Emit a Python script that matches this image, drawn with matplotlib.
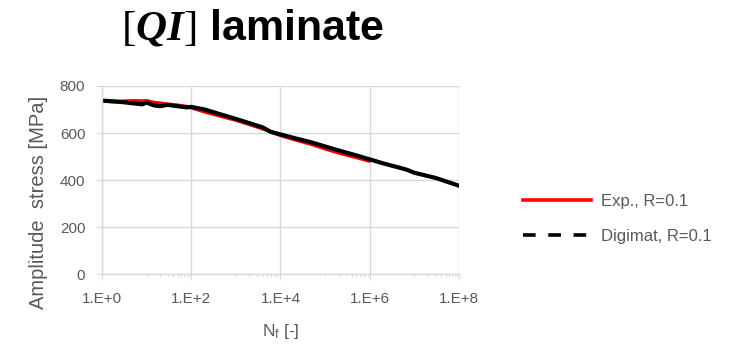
import numpy as np
import matplotlib
matplotlib.use('Agg')
import matplotlib.pyplot as plt
from matplotlib.lines import Line2D
from matplotlib.ticker import FixedLocator, FixedFormatter

plt.rcParams['font.family'] = 'Liberation Sans'
plt.rcParams['mathtext.fontset'] = 'custom'
plt.rcParams['mathtext.rm'] = 'Liberation Serif'
plt.rcParams['mathtext.it'] = 'Liberation Serif:italic:bold'
plt.rcParams['mathtext.bf'] = 'Liberation Serif:bold'

# S-N data (cycles, stress amplitude in MPa)
exp_n = [1, 2, 3, 5, 8, 10, 15, 20, 30, 50, 80, 100, 200, 500, 1e3, 2e3,
         5e3, 1e4, 2e4, 5e4, 1e5, 2e5, 5e5, 1e6]
exp_s = [736, 733, 735, 737, 736, 737, 729, 727, 722, 718, 712, 708, 690, 670,
         655, 637, 612, 590, 573, 552, 533, 516, 496, 481]

dig_n = [1, 2, 3, 5, 8, 10, 15, 20, 30, 40, 60, 80, 100, 200, 500, 1e3, 2e3,
         4e3, 6e3, 1e4, 2e4, 5e4, 1e5, 2e5, 5e5, 1e6, 2e6, 5e6, 7e6, 1e7,
         1.5e7, 3e7, 6e7, 1e8]
dig_s = [738, 734, 731, 726, 722, 729, 717, 714, 720, 716, 712, 709, 711, 700,
         677, 660, 642, 624, 605, 594, 579, 560, 543, 526, 505, 488, 471, 451,
         443, 431, 423, 409, 390, 376]

xticks = [1, 1e2, 1e4, 1e6, 1e8]
xtick_labels = ['1.E+0', '1.E+2', '1.E+4', '1.E+6', '1.E+8']
yticks = [0, 200, 400, 600, 800]

grey = '#595959'
grid = '#d9d9d9'

fig = plt.figure(figsize=(7.44, 3.48), dpi=100)
ax = fig.add_axes([0.137, 0.212, 0.480, 0.541])

ax.plot(exp_n, exp_s, color='#ff0000', lw=2.6, solid_capstyle='round')
ax.plot(dig_n, dig_s, color='black', lw=3.0, solid_capstyle='round')

ax.set_xscale('log')
ax.set_xlim(1, 1e8)
ax.set_ylim(0, 800)
ax.xaxis.set_major_locator(FixedLocator(xticks))
ax.xaxis.set_major_formatter(FixedFormatter(xtick_labels))
minors = [m * 10 ** (2 * k) for k in range(4) for m in range(10, 100, 10)]
ax.xaxis.set_minor_locator(FixedLocator(minors))
ax.xaxis.set_minor_formatter(FixedFormatter([''] * len(minors)))
ax.set_yticks(yticks)

ax.grid(True, which='major', color=grid, lw=1.0)
ax.set_axisbelow(True)
for s in ['top', 'right']:
    ax.spines[s].set_visible(False)
for s in ['left', 'bottom']:
    ax.spines[s].set_color(grid)
    ax.spines[s].set_linewidth(1.0)
ax.tick_params(axis='both', which='major', length=4, color=grid, labelcolor=grey,
               labelsize=11)
ax.tick_params(axis='x', which='minor', length=2.5, color=grid)
ax.tick_params(axis='x', pad=9)
ax.tick_params(axis='y', pad=8)

fig.text(0.052, 0.417, 'Amplitude  stress [MPa]', rotation=90, color=grey,
         fontsize=14.5, ha='center', va='center')
fig.text(0.378, 0.048, r'N$_\mathregular{f}$ [-]', color=grey, fontsize=12.5,
         ha='center', va='center')

fig.text(0.340, 0.920, r'$[QI]$ laminate', fontsize=31, fontweight='bold',
         ha='center', va='center')

handles = [Line2D([], [], color='#ff0000', lw=2.6),
           Line2D([], [], color='black', lw=2.6, ls=(0, (3.5, 3.5)))]
leg = fig.legend(handles, ['Exp., R=0.1', 'Digimat, R=0.1'],
                 loc='center left', bbox_to_anchor=(0.683, 0.372),
                 frameon=False, fontsize=12, handlelength=4.1,
                 labelspacing=1.2, handletextpad=0.6)
for t in leg.get_texts():
    t.set_color(grey)

fig.savefig('out.png', dpi=100)
